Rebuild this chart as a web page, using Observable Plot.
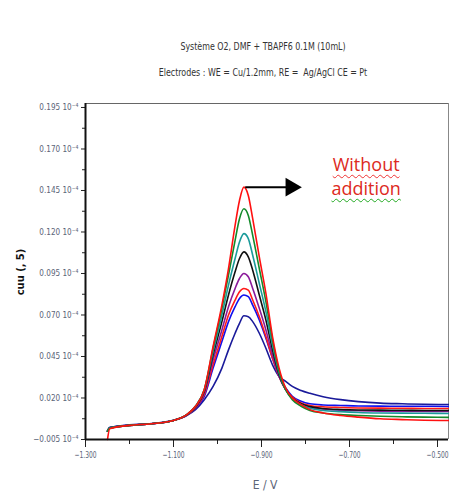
<!DOCTYPE html>
<html>
<head>
<meta charset="utf-8">
<script src="https://cdn.jsdelivr.net/npm/d3@7"></script>
<script src="https://cdn.jsdelivr.net/npm/@observablehq/plot@0.6"></script>
<style>
  html, body { margin: 0; padding: 0; background: #fff; overflow: hidden; }
  #wrap { position: relative; width: 449px; height: 494px; }
  .ttl { position: absolute; left: 0; width: 526px; text-align: center;
         font-family: "Liberation Sans Narrow", "DejaVu Sans Condensed", sans-serif;
         font-size: 11px; color: #333; white-space: pre; transform: scaleX(0.8); transform-origin: 263px 0; }
  .ann { position: absolute; transform: translate(-50%, -50%); white-space: pre;
         font-family: "Open Sans", sans-serif; font-size: 18px; line-height: 1; color: #dd2a22;
         text-decoration-line: underline; text-decoration-style: wavy; text-decoration-thickness: 1px;
         text-underline-offset: 3px; z-index: 2; }
</style>
</head>
<body>
<div id="wrap">
  <div class="ttl" style="top:40px">Système O2, DMF + TBAPF6 0.1M (10mL)</div>
  <div class="ttl" style="top:66px">Electrodes : WE = Cu/1.2mm, RE =  Ag/AgCl CE = Pt</div>
</div>
<script>
// Potential grid (V)
const potential = [-1.25, -1.245, -1.20, -1.15, -1.10, -1.07, -1.05, -1.03, -1.01, -0.99, -0.975, -0.96, -0.95, -0.94, -0.93, -0.92, -0.905, -0.89, -0.875, -0.86, -0.845, -0.83, -0.81, -0.79, -0.76, -0.72, -0.68, -0.63, -0.58, -0.53, -0.475];

// Current (x10^-4 A), one array per curve
const red1   = [-0.005, 0.0015, 0.0035, 0.0045, 0.0065, 0.010, 0.015, 0.025, 0.051, 0.076, 0.098, 0.124, 0.139, 0.147, 0.142, 0.128, 0.105, 0.083, 0.057, 0.038, 0.026, 0.020, 0.016, 0.013, 0.011, 0.0095, 0.0085, 0.0075, 0.007, 0.0066, 0.0064];
const green  = [0.000, 0.0018, 0.0035, 0.0045, 0.0065, 0.010, 0.015, 0.025, 0.050, 0.074, 0.094, 0.115, 0.128, 0.134, 0.130, 0.118, 0.098, 0.078, 0.055, 0.036, 0.025, 0.019, 0.015, 0.0125, 0.011, 0.010, 0.0095, 0.009, 0.0087, 0.0085, 0.0083];
const teal   = [0.000, 0.002, 0.0035, 0.0045, 0.0065, 0.010, 0.015, 0.025, 0.048, 0.070, 0.088, 0.104, 0.114, 0.119, 0.116, 0.106, 0.089, 0.072, 0.052, 0.035, 0.025, 0.0195, 0.016, 0.0138, 0.0125, 0.0118, 0.0113, 0.011, 0.0109, 0.0108, 0.0107];
const black  = [0.000, 0.002, 0.0035, 0.0045, 0.0065, 0.0098, 0.0145, 0.024, 0.046, 0.066, 0.082, 0.096, 0.104, 0.108, 0.105, 0.097, 0.082, 0.067, 0.049, 0.034, 0.025, 0.020, 0.0165, 0.0148, 0.0137, 0.0131, 0.0128, 0.0127, 0.0126, 0.0125, 0.0125];
const purple = [0.000, 0.002, 0.0035, 0.0045, 0.0065, 0.0097, 0.0143, 0.023, 0.043, 0.061, 0.075, 0.086, 0.092, 0.095, 0.093, 0.086, 0.074, 0.061, 0.046, 0.033, 0.025, 0.020, 0.0165, 0.0145, 0.0133, 0.0126, 0.0123, 0.0121, 0.012, 0.0119, 0.0119];
const red2   = [0.000, 0.002, 0.0035, 0.0045, 0.0065, 0.0096, 0.014, 0.022, 0.040, 0.057, 0.070, 0.079, 0.084, 0.086, 0.085, 0.079, 0.069, 0.057, 0.044, 0.033, 0.025, 0.0205, 0.017, 0.0155, 0.0147, 0.0143, 0.014, 0.0139, 0.0138, 0.0137, 0.0137];
const blue   = [0.000, 0.0022, 0.0037, 0.0045, 0.0065, 0.0095, 0.0138, 0.021, 0.038, 0.054, 0.066, 0.075, 0.080, 0.082, 0.081, 0.076, 0.067, 0.056, 0.044, 0.033, 0.026, 0.021, 0.018, 0.0165, 0.0158, 0.0155, 0.0152, 0.0151, 0.015, 0.015, 0.0149];
const navy   = [0.000, 0.0022, 0.0038, 0.0046, 0.0066, 0.0095, 0.013, 0.019, 0.027, 0.038, 0.049, 0.059, 0.065, 0.0695, 0.069, 0.066, 0.059, 0.050, 0.040, 0.033, 0.030, 0.027, 0.0245, 0.0228, 0.0208, 0.019, 0.0178, 0.0169, 0.0165, 0.0162, 0.0161];

// Draw order (first = bottom)
const seriesNames  = ["navy", "blue", "red2", "purple", "black", "teal", "green", "red1"];
const seriesValues = [navy, blue, red2, purple, black, teal, green, red1];
const seriesColors = ["#1a1a9a", "#1010ee", "#ff1a1a", "#8a1a9a", "#111111", "#1a9a9a", "#138a2a", "#ff1010"];

// Axes
const yTicks = [-0.005, 0.020, 0.045, 0.070, 0.095, 0.120, 0.145, 0.170, 0.195];
const yMinor = [0.0075, 0.0325, 0.0575, 0.0825, 0.1075, 0.1325, 0.1575, 0.1825];
const xTicks = [-1.3, -1.1, -0.9, -0.7, -0.5];
const xMinor = [-1.2, -1.0, -0.8, -0.6];
const xDomain = [-1.3, -0.475];
const yDomain = [-0.005, 0.1974];

// Annotation
const annLines = ["Without", "addition"];
const annColors = ["#e33", "#2a2"];
const annX = -0.661;
const annY = [0.1607, 0.1462];
const arrowFrom = {x: -0.937, y: 0.147};
const arrowTo   = {x: -0.84,  y: 0.147};
const arrowHead = {x: -0.833, y: 0.147};

const rows = [];
seriesNames.forEach((name, i) => {
  potential.forEach((p, j) => rows.push({series: name, E: p, I: seriesValues[i][j]}));
});

const fmt = d3.format(".3f");
const lbl = {fontFamily: "'Liberation Sans Narrow','DejaVu Sans Condensed',sans-serif", fontSize: 9, fill: "#5b6478"};

const chart = Plot.plot({
  width: 449,
  height: 494,
  marginLeft: 85,
  marginRight: 1,
  marginTop: 103,
  marginBottom: 55,
  style: {background: "transparent", overflow: "visible"},
  x: {domain: xDomain},
  y: {domain: yDomain},
  color: {domain: seriesNames, range: seriesColors},
  marks: [
    Plot.ruleY([yDomain[1]], {stroke: "#666", strokeWidth: 1.2}),
    Plot.ruleX([xDomain[1]], {stroke: "#888", strokeWidth: 1}),
    Plot.line(rows, {x: "E", y: "I", z: "series", stroke: "series", strokeWidth: 1.6, curve: "monotone-x"}),
    Plot.axisY(yTicks, {tickSize: 4, tickPadding: 3, tickFormat: d => fmt(d) + " 10⁻⁴", ...lbl, label: null, stroke: "#222"}),
    Plot.axisY(yMinor, {tickSize: 3, tickFormat: () => "", label: null, stroke: "#222"}),
    Plot.axisX(xTicks, {tickSize: 8, tickPadding: 4, tickFormat: d => fmt(d), ...lbl, fontSize: 9.5, label: null, stroke: "#222"}),
    Plot.axisX(xMinor, {tickSize: 5, tickFormat: () => "", label: null, stroke: "#222"}),
    Plot.ruleX([xDomain[0]], {stroke: "#111", strokeWidth: 2}),
    Plot.ruleY([yDomain[0]], {stroke: "#111", strokeWidth: 2}),
    Plot.link([0], {x1: () => arrowFrom.x, y1: () => arrowFrom.y, x2: () => arrowTo.x, y2: () => arrowTo.y, stroke: "#000", strokeWidth: 2}),
    Plot.dot([0], {x: () => arrowHead.x, y: () => arrowHead.y, symbol: "triangle", rotate: 90, r: 7, fill: "#000", stroke: "none"})
  ]
});

const wrap = document.getElementById("wrap");
chart.style.position = "absolute";
chart.style.left = "0";
chart.style.top = "0";
wrap.appendChild(chart);

// narrow look for tick labels (the reference uses a condensed face)
const xLabels = Array.from(chart.querySelectorAll("g[aria-label='x-axis tick label'] text"));
xLabels.forEach((t, i) => {
  const w = t.getComputedTextLength();
  if (w > 0) { t.setAttribute("textLength", (w * 0.7).toFixed(1)); t.setAttribute("lengthAdjust", "spacingAndGlyphs"); }
  if (i === xLabels.length - 1) {
    // keep the last label inside the window: anchor its right end near the frame edge
    t.setAttribute("text-anchor", "end");
    t.setAttribute("dx", "7");
  }
});
chart.querySelectorAll("g[aria-label='y-axis tick label'] text").forEach(t => {
  const w = t.getComputedTextLength();
  if (w > 0) { t.setAttribute("textLength", (w * 0.9).toFixed(1)); t.setAttribute("lengthAdjust", "spacingAndGlyphs"); }
});

// annotation text (HTML, for wavy underline), placed with Plot's scales
const sx = chart.scale("x"), sy = chart.scale("y");
annLines.forEach((txt, i) => {
  const d = document.createElement("div");
  d.className = "ann";
  d.textContent = txt;
  d.style.left = sx.apply(annX) + "px";
  d.style.top = sy.apply(annY[i]) + "px";
  d.style.textDecorationColor = annColors[i];
  wrap.appendChild(d);
});

// axis titles
const svgNS = "http://www.w3.org/2000/svg";
const xt = document.createElementNS(svgNS, "text");
xt.setAttribute("x", 265); xt.setAttribute("y", 489);
xt.setAttribute("text-anchor", "middle");
xt.setAttribute("font-family", "'Liberation Sans Narrow','DejaVu Sans Condensed',sans-serif");
xt.setAttribute("font-size", "12"); xt.setAttribute("fill", "#5b6478");
xt.textContent = "E / V";
chart.appendChild(xt);
const yt = document.createElementNS(svgNS, "text");
yt.setAttribute("transform", "translate(24,272) rotate(-90)");
yt.setAttribute("text-anchor", "middle");
yt.setAttribute("font-family", "'Liberation Sans Narrow','DejaVu Sans Condensed',sans-serif");
yt.setAttribute("font-size", "11"); yt.setAttribute("font-weight", "bold"); yt.setAttribute("fill", "#111");
yt.textContent = "cuu (, 5)";
chart.appendChild(yt);
</script>
</body>
</html>
